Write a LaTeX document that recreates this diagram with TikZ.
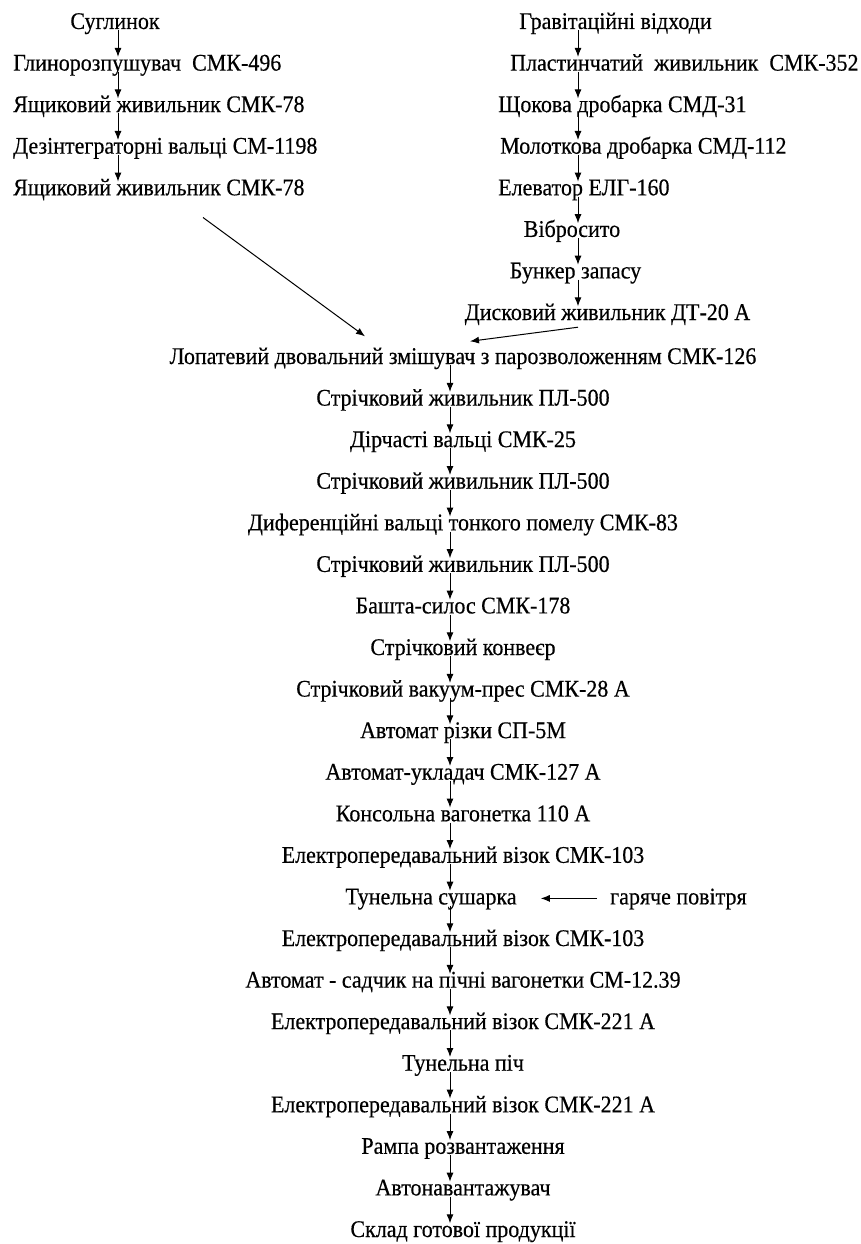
\documentclass[tikz,border=0pt]{standalone}
\usepackage{fontspec}
\setmainfont{Liberation Serif}[FakeStretch=0.92,FakeBold=0.4]
\usetikzlibrary{arrows.meta}
\begin{document}
\begin{tikzpicture}[x=1pt,y=-1pt,
  lbl/.style={inner sep=0pt, text height=13.5pt, text depth=1pt, font=\fontsize{23.9}{28}\selectfont},
  arr/.style={-{Latex[length=9pt,width=7pt]}, line width=1pt}]
\useasboundingbox (0,0) rectangle (860,1244);
\fill[white] (0,0) rectangle (860,1244);
% columns for arrows
\coordinate (cl) at (118,0);
\coordinate (cr) at (578,0);
\coordinate (cm) at (450,0);
% left column
\node[lbl,anchor=base] (l1) at (115,29) {Суглинок};
\node[lbl,anchor=base west] (l2) at (13,70.6) {Глинорозпушувач~ СМК-496};
\node[lbl,anchor=base west] (l3) at (13,112.1) {Ящиковий живильник СМК-78};
\node[lbl,anchor=base west] (l4) at (13,153.7) {Дезінтеграторні вальці СМ-1198};
\node[lbl,anchor=base west] (l5) at (13,195.3) {Ящиковий живильник СМК-78};
% right column
\node[lbl,anchor=base] (r1) at (615.5,29) {Гравітаційні відходи};
\node[lbl,anchor=base west] (r2) at (510,70.6) {Пластинчатий~ живильник~ СМК-352};
\node[lbl,anchor=base west] (r3) at (498,112.1) {Щокова дробарка СМД-31};
\node[lbl,anchor=base west] (r4) at (500,153.7) {Молоткова дробарка СМД-112};
\node[lbl,anchor=base west] (r5) at (498,195.3) {Елеватор ЕЛГ-160};
\node[lbl,anchor=base] (r6) at (572,236.9) {Вібросито};
\node[lbl,anchor=base] (r7) at (575.5,278.4) {Бункер запасу};
\node[lbl,anchor=base] (r8) at (607.5,320) {Дисковий живильник ДТ-20 А};
% main column
\node[lbl,anchor=base] (m0) at (463,364.0) {Лопатевий двовальний змішувач з парозволоженням СМК-126};
\node[lbl,anchor=base] (m1) at (463,405.6) {Стрічковий живильник ПЛ-500};
\node[lbl,anchor=base] (m2) at (463,447.1) {Дірчасті вальці СМК-25};
\node[lbl,anchor=base] (m3) at (463,488.7) {Стрічковий живильник ПЛ-500};
\node[lbl,anchor=base] (m4) at (463,530.3) {Диференційні вальці тонкого помелу СМК-83};
\node[lbl,anchor=base] (m5) at (463,571.9) {Стрічковий живильник ПЛ-500};
\node[lbl,anchor=base] (m6) at (463,613.4) {Башта-силос СМК-178};
\node[lbl,anchor=base] (m7) at (463,655.0) {Стрічковий конвеєр};
\node[lbl,anchor=base] (m8) at (463,696.6) {Стрічковий вакуум-прес СМК-28 А};
\node[lbl,anchor=base] (m9) at (463,738.1) {Автомат різки СП-5М};
\node[lbl,anchor=base] (m10) at (463,779.7) {Автомат-укладач СМК-127 А};
\node[lbl,anchor=base] (m11) at (463,821.3) {Консольна вагонетка 110 А};
\node[lbl,anchor=base] (m12) at (463,862.8) {Електропередавальний візок СМК-103};
\node[lbl,anchor=base] (m13) at (431,904.4) {Тунельна сушарка};
\node[lbl,anchor=base west] (hot) at (610,904.4) {гаряче повітря};
\node[lbl,anchor=base] (m14) at (463,946.0) {Електропередавальний візок СМК-103};
\node[lbl,anchor=base] (m15) at (463,987.6) {Автомат - садчик на пічні вагонетки СМ-12.39};
\node[lbl,anchor=base] (m16) at (463,1029.1) {Електропередавальний візок СМК-221 А};
\node[lbl,anchor=base] (m17) at (463,1070.7) {Тунельна піч};
\node[lbl,anchor=base] (m18) at (463,1112.3) {Електропередавальний візок СМК-221 А};
\node[lbl,anchor=base] (m19) at (463,1153.8) {Рампа розвантаження};
\node[lbl,anchor=base] (m20) at (463,1195.4) {Автонавантажувач};
\node[lbl,anchor=base] (m21) at (463,1237.0) {Склад готової продукції};
% left arrows
\foreach \a/\b in {l1/l2,l2/l3,l3/l4,l4/l5}
  \draw[arr] (\a.south -| cl) -- (\b.north -| cl);
% right arrows
\foreach \a/\b in {r1/r2,r2/r3,r3/r4,r4/r5,r5/r6,r6/r7,r7/r8}
  \draw[arr] (\a.south -| cr) -- (\b.north -| cr);
% main arrows
\foreach \a/\b in {m0/m1,m1/m2,m2/m3,m3/m4,m4/m5,m5/m6,m6/m7,m7/m8,m8/m9,m9/m10,m10/m11,m11/m12,m12/m13,m13/m14,m14/m15,m15/m16,m16/m17,m17/m18,m18/m19,m19/m20,m20/m21}
  \draw[arr] (\a.south -| cm) -- (\b.north -| cm);
% merging arrows
\draw[arr] ([shift={(190,21)}]l5.south west) -- ([shift={(-98,-14)}]m0.north);
\draw[arr] ([shift={(0,6)}]r8.south -| cr) -- ([shift={(7,-9)}]m0.north);
% hot air
\draw[arr] ([shift={(-13,-6)}]hot.base west) -- ([shift={(24,-6)}]m13.base east);
\end{tikzpicture}
\end{document}
